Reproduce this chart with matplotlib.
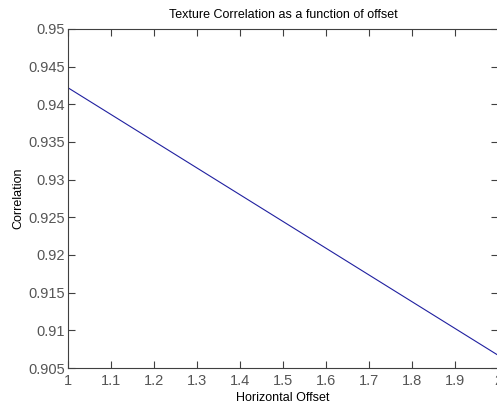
import numpy as np
import matplotlib.pyplot as plt

offset = [1.0, 2.0]
correlation = [0.9422, 0.9067]

xticks = [1, 1.1, 1.2, 1.3, 1.4, 1.5, 1.6, 1.7, 1.8, 1.9, 2]
yticks = [0.905, 0.91, 0.915, 0.92, 0.925, 0.93, 0.935, 0.94, 0.945, 0.95]

plt.rcParams['font.family'] = ['Liberation Sans', 'DejaVu Sans']

fig = plt.figure(figsize=(4.97, 4.05), dpi=100)
ax = fig.add_axes([68 / 497, 1 - 368 / 405, 430 / 497, 339 / 405])
ax.plot(offset, correlation, color='#2020a0', linewidth=0.8)

ax.set_xlim(1, 2)
ax.set_ylim(0.905, 0.95)
ax.set_xticks(xticks)
ax.set_xticklabels(['1', '1.1', '1.2', '1.3', '1.4', '1.5', '1.6', '1.7', '1.8', '1.9', '2'])
ax.set_yticks(yticks)
ax.set_yticklabels(['0.905', '0.91', '0.915', '0.92', '0.925', '0.93', '0.935', '0.94', '0.945', '0.95'])
ax.tick_params(direction='in', top=True, right=True, length=5, width=0.8,
               labelsize=10.5, colors='#404040', labelcolor='#555555', pad=2)
ax.tick_params(axis='x', pad=4)
for s in ax.spines.values():
    s.set_color('#404040')
    s.set_linewidth(0.8)

ax.set_title('Texture Correlation as a function of offset', fontsize=9, pad=8)
ax.set_xlabel('Horizontal Offset', fontsize=9, labelpad=3)
ax.set_ylabel('Correlation', fontsize=9, labelpad=3)

fig.savefig('out.png', dpi=100)
